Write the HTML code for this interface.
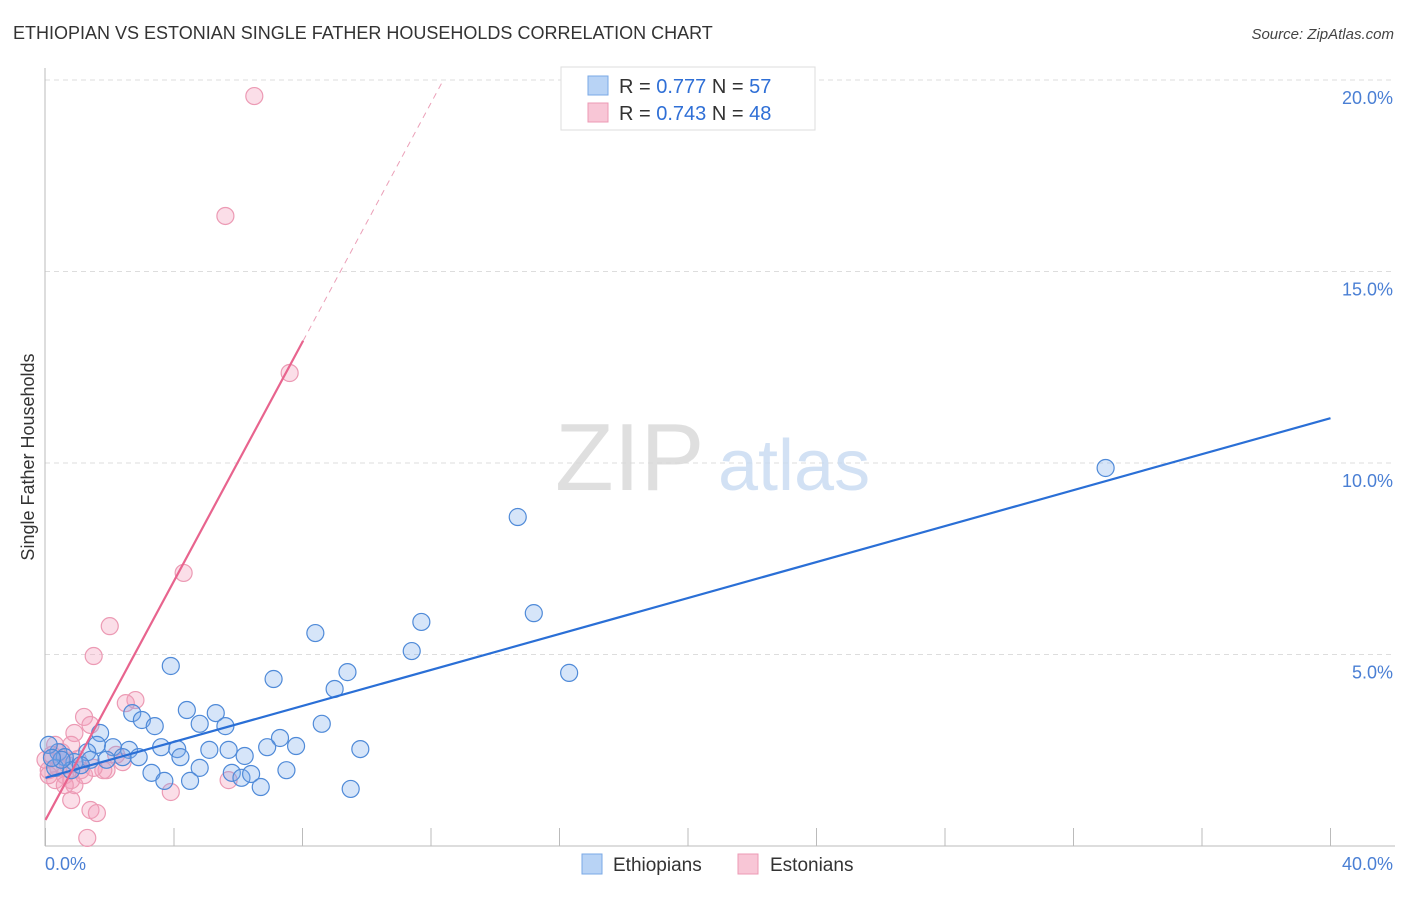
<!DOCTYPE html>
<html><head><meta charset="utf-8"><style>
body{margin:0;background:#fff;font-family:"Liberation Sans",sans-serif}
svg text{font-family:"Liberation Sans",sans-serif}
</style></head><body>
<svg id="chart" width="1406" height="892" xmlns="http://www.w3.org/2000/svg">
<text x="13" y="39" font-size="18" fill="#333">ETHIOPIAN VS ESTONIAN SINGLE FATHER HOUSEHOLDS CORRELATION CHART</text>
<text x="1394" y="39" font-size="15" fill="#444" text-anchor="end" font-style="italic">Source: ZipAtlas.com</text>
<g id="grid"></g>
<text x="555" y="490" font-size="96" fill="#d8d8d8" font-family="Liberation Serif" opacity="0.8">ZIP</text>
<text x="718" y="490" font-size="72" fill="#c8daf2" opacity="0.8">atlas</text>
<line x1="45" y1="68" x2="45" y2="846" stroke="#bbb"/>
<line x1="45" y1="846" x2="1395" y2="846" stroke="#bbb"/>
<g id="ticks"></g>
<text transform="translate(34,457) rotate(-90)" font-size="18" fill="#333" text-anchor="middle">Single Father Households</text>
<text x="45" y="870" font-size="18" fill="#4a7fd4">0.0%</text>
<text x="1393" y="870" font-size="18" fill="#4a7fd4" text-anchor="end">40.0%</text>
<g id="points"></g>
<g id="lines"></g>
<g>
<rect x="561" y="67" width="254" height="63" fill="#fff" stroke="#ddd"/>
<rect x="588" y="76" width="20" height="19" fill="#b8d3f5" stroke="#7aa8e6"/>
<text x="619" y="93" font-size="20" fill="#333">R = <tspan fill="#2f6fd6">0.777</tspan>   N = <tspan fill="#2f6fd6">57</tspan></text>
<rect x="588" y="103" width="20" height="19" fill="#f8c6d6" stroke="#ec9ab4"/>
<text x="619" y="120" font-size="20" fill="#333">R = <tspan fill="#2f6fd6">0.743</tspan>   N = <tspan fill="#2f6fd6">48</tspan></text>
</g>
<g>
<rect x="582" y="854" width="20" height="20" fill="#b8d3f5" stroke="#7aa8e6"/>
<text x="613" y="871" font-size="19" fill="#333">Ethiopians</text>
<rect x="738" y="854" width="20" height="20" fill="#f8c6d6" stroke="#ec9ab4"/>
<text x="770" y="871" font-size="19" fill="#333">Estonians</text>
</g>
</svg>
<script>
const yTicks=[5,10,15,20];
const xTicks=[0,4,8,12,16,20,24,28,32,36,40];
const blueX=[33.0,14.7,15.2,11.7,8.4,3.9,11.4,16.3,9.4,7.1,9.0,4.4,5.3,2.7,3.0,3.4,4.8,5.6,8.6,1.7,7.3,6.9,7.8,9.8,3.6,4.1,5.1,5.7,6.2,2.6,2.1,2.9,2.4,4.2,4.8,3.3,3.7,4.5,5.8,6.1,6.4,7.5,6.7,9.5,1.6,1.3,0.9,0.4,0.1,0.6,0.8,1.4,0.3,1.9,0.5,1.1,0.2];
const blueY=[9.87,8.59,6.08,5.85,5.56,4.70,5.09,4.52,4.54,4.36,4.10,3.55,3.47,3.47,3.29,3.13,3.19,3.13,3.19,2.95,2.82,2.58,2.61,2.53,2.58,2.53,2.51,2.51,2.35,2.51,2.58,2.32,2.32,2.32,2.04,1.91,1.70,1.70,1.91,1.78,1.88,1.98,1.54,1.49,2.64,2.45,2.19,2.45,2.64,2.32,1.98,2.25,2.04,2.25,2.25,2.11,2.3];
const pinkX=[6.5,5.6,7.6,4.3,2.0,1.5,2.8,2.5,1.2,1.4,0.9,0.3,0.8,3.9,5.7,1.4,1.6,1.3,0.8,0.9,1.9,1.8,2.4,2.2,0.5,0.1,0.3,0.6,1.1,0.7,0.4,0.0,1.0,0.5,0.8,1.2,1.5,0.2,0.6,0.1];
const pinkY=[19.58,16.45,12.35,7.13,5.74,4.96,3.81,3.73,3.37,3.16,2.95,2.64,2.64,1.41,1.72,0.94,0.86,0.21,1.20,1.59,1.98,1.98,2.19,2.38,2.25,1.98,1.72,1.85,1.98,2.11,2.04,2.25,2.27,2.45,1.72,1.85,2.04,2.38,1.59,1.85];
const blueTrend=[1.78,11.17];
const pinkTrend=[0.68,1.56];
const NS='http://www.w3.org/2000/svg';
const X=v=>45.5+v*32.125, Y=v=>846-v*38.3;
function mk(t,a,p){const e=document.createElementNS(NS,t);for(const k in a)e.setAttribute(k,a[k]);p.appendChild(e);return e;}
const grid=document.getElementById('grid'),ticks=document.getElementById('ticks');
yTicks.forEach(t=>{
 const l=mk('line',{x1:45,x2:1395,y1:Y(t),y2:Y(t),stroke:'#ddd','stroke-dasharray':'5,4'},grid);
 
 
 const tx=mk('text',{x:1393,y:Y(t)+24,'font-size':18,fill:'#4a7fd4','text-anchor':'end'},ticks);
 tx.textContent=t.toFixed(1)+'%';
 
 
});
xTicks.forEach(t=>{
 const l=mk('line',{x1:X(t),x2:X(t),y1:828,y2:846,stroke:'#bbb'},ticks);
 
 
});
const pts=document.getElementById('points');
pinkX.forEach((v,i)=>{
 const c=mk('circle',{cx:X(v),cy:Y(pinkY[i]),r:8.5,fill:'rgba(244,160,188,0.35)',stroke:'#ec9ab4','stroke-width':1.2},pts);
 
 
});
blueX.forEach((v,i)=>{
 const c=mk('circle',{cx:X(v),cy:Y(blueY[i]),r:8.5,fill:'rgba(120,170,235,0.3)',stroke:'#4f8ad8','stroke-width':1.2},pts);
 
 
});
const ln=document.getElementById('lines');
const b=mk('line',{x1:X(0),y1:Y(blueTrend[0]),x2:X(40),y2:Y(blueTrend[1]),stroke:'#2a6fd6','stroke-width':2.2},ln);


const pe=8.02, pd=(20-pinkTrend[0])/pinkTrend[1];
const p=mk('line',{x1:X(0),y1:Y(pinkTrend[0]),x2:X(pe),y2:Y(pinkTrend[0]+pinkTrend[1]*pe),stroke:'#e8648e','stroke-width':2.2},ln);


const pdl=mk('line',{x1:X(pe),y1:Y(pinkTrend[0]+pinkTrend[1]*pe),x2:X(pd),y2:Y(20),stroke:'#eba0b8','stroke-width':1,'stroke-dasharray':'6,5'},ln);


</script>
</body></html>
